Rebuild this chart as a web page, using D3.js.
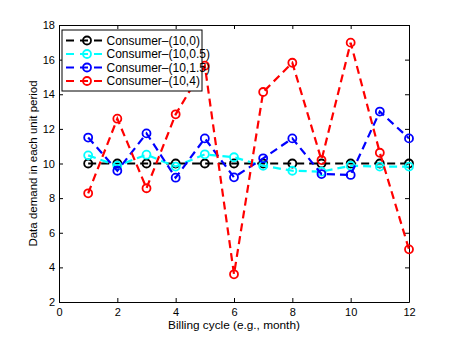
<!DOCTYPE html>
<html>
<head>
<meta charset="utf-8">
<script src="https://cdn.jsdelivr.net/npm/d3@7"></script>
<style>
  body { margin: 0; background: #fff; }
  text { font-family: "Liberation Sans", Arial, sans-serif; }
</style>
</head>
<body>
<svg id="chart"></svg>
<script>
// billing cycles
const cycles = [1, 2, 3, 4, 5, 6, 7, 8, 9, 10, 11, 12];
// demand per series
const consumer0 = [10, 10, 10, 10, 10, 10, 10, 10, 10, 10, 10, 10];
const consumer05 = [10.47, 9.87, 10.51, 9.82, 10.53, 10.36, 9.87, 9.58, 9.53, 9.87, 9.82, 9.82];
const consumer15 = [11.5, 9.58, 11.74, 9.18, 11.45, 9.2, 10.3, 11.45, 9.39, 9.34, 13.0, 11.45];
const consumer4 = [8.28, 12.59, 8.57, 12.84, 15.65, 3.6, 14.13, 15.82, 10.2, 16.98, 10.62, 5.04];
const seriesNames = ["Consumer–(10,0)", "Consumer–(10,0.5)", "Consumer–(10,1.5)", "Consumer–(10,4)"];
const seriesColors = ["#000000", "#00ffff", "#0000ff", "#ff0000"];
const xTicks = [0, 2, 4, 6, 8, 10, 12];
const yTicks = [2, 4, 6, 8, 10, 12, 14, 16, 18];

const W = 452, H = 340;
const margin = { top: 25, right: 43, bottom: 38, left: 59 };
const innerW = W - margin.left - margin.right;
const innerH = H - margin.top - margin.bottom;

const svg = d3.select("#chart").attr("width", W).attr("height", H);
const g = svg.append("g").attr("transform", `translate(${margin.left},${margin.top})`);

const x = d3.scaleLinear().domain([0, 12]).range([0, innerW]);
const y = d3.scaleLinear().domain([2, 18]).range([innerH, 0]);

// axes, matlab style ticks pointing inward
const tickLen = 4;
g.append("g").attr("transform", `translate(0,${innerH})`)
  .call(d3.axisBottom(x).tickValues(xTicks).tickSizeInner(-tickLen).tickSizeOuter(0).tickPadding(6));
g.append("g")
  .call(d3.axisLeft(y).tickValues(yTicks).tickSizeInner(-tickLen).tickSizeOuter(0).tickPadding(4));
g.append("g")
  .call(d3.axisTop(x).tickValues(xTicks).tickSizeInner(-tickLen).tickSizeOuter(0).tickFormat(""));
g.append("g").attr("transform", `translate(${innerW},0)`)
  .call(d3.axisRight(y).tickValues(yTicks).tickSizeInner(-tickLen).tickSizeOuter(0).tickFormat(""));

g.selectAll(".domain").attr("stroke", "#000").attr("stroke-width", 1);
g.selectAll(".tick line").attr("stroke", "#000");
g.selectAll(".tick text").attr("font-size", 11).attr("fill", "#000")
  .style("font-family", "'Liberation Sans', Arial, sans-serif");

// labels
svg.append("text")
  .attr("x", margin.left + innerW / 2).attr("y", 329)
  .attr("text-anchor", "middle").attr("font-size", 11.8)
  .text("Billing cycle (e.g., month)");
svg.append("text")
  .attr("transform", `translate(37,${margin.top + innerH / 2}) rotate(-90)`)
  .attr("text-anchor", "middle").attr("font-size", 11.5)
  .text("Data demand in each unit period");

// series
const allSeries = [consumer0, consumer05, consumer15, consumer4];
const line = d3.line().x((d, i) => x(cycles[i])).y(d => y(d));

allSeries.forEach((vals, s) => {
  const sg = g.append("g");
  sg.append("path")
    .datum(vals)
    .attr("d", line)
    .attr("fill", "none")
    .attr("stroke", seriesColors[s])
    .attr("stroke-width", 2.2)
    .attr("stroke-dasharray", "8,5");
  sg.selectAll("circle")
    .data(vals)
    .enter()
    .append("circle")
    .attr("cx", (d, i) => x(cycles[i]))
    .attr("cy", d => y(d))
    .attr("r", 4)
    .attr("fill", "none")
    .attr("stroke", seriesColors[s])
    .attr("stroke-width", 1.8);
});

// legend
const leg = svg.append("g").attr("transform", "translate(62,30)");
leg.append("rect")
  .attr("x", 0).attr("y", 0).attr("width", 140).attr("height", 61)
  .attr("fill", "#fff").attr("stroke", "#000").attr("stroke-width", 1);
seriesNames.forEach((name, i) => {
  const ry = 10.5 + i * 13.5;
  leg.append("line")
    .attr("x1", 4).attr("x2", 41).attr("y1", ry).attr("y2", ry)
    .attr("stroke", seriesColors[i]).attr("stroke-width", 2.2)
    .attr("stroke-dasharray", "8,6");
  leg.append("circle")
    .attr("cx", 25).attr("cy", ry).attr("r", 4)
    .attr("fill", "none").attr("stroke", seriesColors[i]).attr("stroke-width", 1.8);
  leg.append("text")
    .attr("x", 44.5).attr("y", ry + 4.2)
    .attr("font-size", 12)
    .text(name);
});
</script>
</body>
</html>
